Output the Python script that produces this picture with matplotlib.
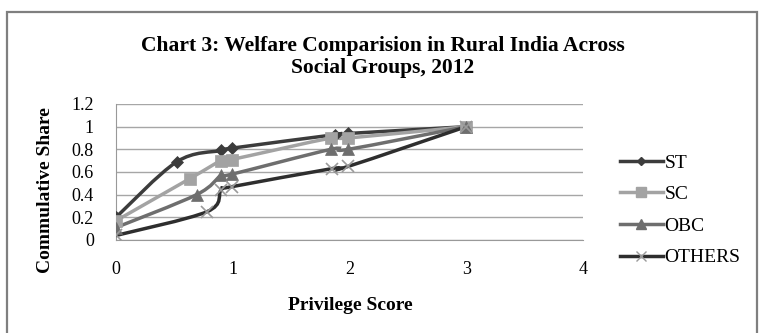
import numpy as np
import matplotlib
matplotlib.use("Agg")
import matplotlib.pyplot as plt
from matplotlib.path import Path
from matplotlib.patches import PathPatch, Rectangle
from matplotlib.lines import Line2D

# values
groups = ["ST", "SC", "OBC", "OTHERS"]
st_x = [0, 0.52, 0.9, 0.99, 1.88, 1.99, 3]
st_y = [0.20, 0.69, 0.79, 0.81, 0.93, 0.94, 1.0]
sc_x = [0, 0.63, 0.9, 0.99, 1.84, 1.99, 3]
sc_y = [0.17, 0.54, 0.70, 0.71, 0.90, 0.90, 1.0]
obc_x = [0, 0.69, 0.9, 0.99, 1.84, 1.99, 3]
obc_y = [0.11, 0.40, 0.57, 0.58, 0.80, 0.80, 1.0]
oth_x = [0, 0.78, 0.9, 0.99, 1.85, 1.99, 3]
oth_y = [0.04, 0.25, 0.44, 0.47, 0.63, 0.65, 1.0]

y_ticks = [0, 0.2, 0.4, 0.6, 0.8, 1, 1.2]
y_labels = ["0", "0.2", "0.4", "0.6", "0.8", "1", "1.2"]
x_ticks = [0, 1, 2, 3, 4]

SERIF = ["Liberation Serif", "DejaVu Serif"]


def smooth_path(xs, ys):
    # excel style smoothed line: cubic bezier segments through every point
    p = np.column_stack([xs, ys]).astype(float)
    n = len(p)
    verts = [p[0]]
    codes = [Path.MOVETO]
    for i in range(n - 1):
        p0 = p[i - 1] if i > 0 else p[i]
        p3 = p[i + 2] if i + 2 < n else p[i + 1]
        c1 = p[i] + (p[i + 1] - p0) / 6.0
        c2 = p[i + 1] - (p3 - p[i]) / 6.0
        verts += [c1, c2, p[i + 1]]
        codes += [Path.CURVE4] * 3
    return Path(verts, codes)


fig = plt.figure(figsize=(7.59, 3.33), dpi=100)
W, H = 759, 333

# outer chart frame
fig.patches.append(Rectangle((7 / W, -0.05), (757 - 7) / W, 1 - 12 / H + 0.05,
                             transform=fig.transFigure, fill=False,
                             edgecolor="#7f7f7f", linewidth=1.6))

ax = fig.add_axes([116 / W, 1 - 240 / H, (583 - 116) / W, (240 - 104) / H])

series = [
    (st_x, st_y, "#3c3c3c", "D", 6, "#3c3c3c"),
    (sc_x, sc_y, "#a3a3a3", "s", 8.5, "#a3a3a3"),
    (obc_x, obc_y, "#6e6e6e", "^", 8.5, "#6e6e6e"),
    (oth_x, oth_y, "#2e2e2e", "x", 8, "#9a9a9a"),
]

handles = []
for (xs, ys, col, mk, ms, mcol), name in zip(series, groups):
    ax.add_patch(PathPatch(smooth_path(xs, ys), fill=False, edgecolor=col,
                           linewidth=2.5, zorder=3, capstyle="round"))
    ax.plot(xs, ys, linestyle="none", marker=mk, markersize=ms, color=mcol,
            markeredgewidth=1.2 if mk == "x" else 0.5, zorder=4)
    handles.append(Line2D([], [], color=col, linewidth=2.5, marker=mk,
                          markersize=ms - 1.5, markerfacecolor=mcol,
                          markeredgecolor=mcol))

ax.set_xlim(0, 4)
ax.set_ylim(0, 1.2)
ax.set_xticks(x_ticks)
ax.set_yticks(y_ticks)
ax.set_yticklabels(y_labels)
ax.grid(axis="y", color="#a6a6a6", linewidth=1.0)
ax.set_axisbelow(True)
for s in ["top", "right"]:
    ax.spines[s].set_visible(False)
ax.spines["left"].set_color("#999999")
ax.spines["bottom"].set_color("#999999")
ax.tick_params(length=0, labelsize=13)
ax.tick_params(axis="x", pad=15)
ax.tick_params(axis="y", pad=16)
for lab in ax.get_xticklabels() + ax.get_yticklabels():
    lab.set_family(SERIF)

fig.text(350 / W, 1 - 306 / H, "Privilege Score", ha="center", va="center",
         family=SERIF, fontweight="bold", fontsize=14)
fig.text(46 / W, 1 - 190 / H, "Commulative Share", ha="center", va="center",
         rotation=90, family=SERIF, fontweight="bold", fontsize=14)

fig.text(383 / W, 1 - 57 / H,
         "Chart 3: Welfare Comparision in Rural India Across\nSocial Groups, 2012",
         ha="center", va="center", family=SERIF, fontweight="bold",
         fontsize=15.5, linespacing=1.15)

fig.legend(handles, groups, loc="upper left",
           bbox_to_anchor=(620 / W, 1 - 154 / H), frameon=False,
           prop={"family": SERIF, "size": 14}, handlelength=2.2,
           handletextpad=0.1, labelspacing=0.72, borderpad=0,
           borderaxespad=0)

fig.savefig("out.png", dpi=100)
